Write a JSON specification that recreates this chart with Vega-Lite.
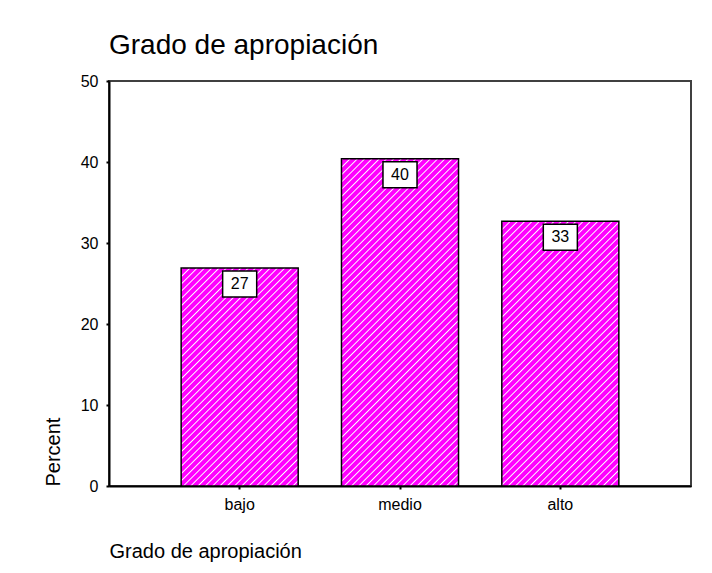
{
 "$schema": "https://vega.github.io/schema/vega-lite/v6.json",
 "width": 582,
 "height": 405,
 "autosize": "none",
 "padding": {"left": 109, "top": 81, "right": 21, "bottom": 87},
 "background": "white",
 "title": {"text": "Grado de apropiación", "anchor": "start", "frame": "group", "fontSize": 28, "font": "Liberation Sans", "fontWeight": "normal", "color": "black", "baseline": "alphabetic", "offset": 27, "dy": 36},
 "data": {"values": [
  {"cat": "bajo", "pct": 26.9},
  {"cat": "medio", "pct": 40.4},
  {"cat": "alto", "pct": 32.7}
 ]},
 "encoding": {
  "x": {"field": "cat", "type": "nominal", "sort": ["bajo", "medio", "alto"],
   "scale": {"paddingInner": 0.27, "paddingOuter": 0.45},
   "axis": {"title": "Grado de apropiación", "labelAngle": 0, "domainColor": "black", "domainWidth": 2, "tickColor": "black", "tickWidth": 2, "tickSize": 3, "labelPadding": 7, "labelFontSize": 16, "labelColor": "black", "titleFontSize": 20, "titleFontWeight": "normal", "titleColor": "black", "titleAnchor": "start", "titleAlign": "left", "titleX": 0, "titleY": 65, "titleBaseline": "middle", "grid": false}},
  "y": {"field": "pct", "type": "quantitative", "scale": {"domain": [0, 50], "nice": false},
   "axis": {"title": "Percent", "values": [0, 10, 20, 30, 40, 50], "domainColor": "black", "domainWidth": 2, "tickColor": "black", "tickWidth": 2, "tickSize": 3, "labelPadding": 8, "labelFontSize": 16, "labelColor": "black", "titleFontSize": 20, "titleFontWeight": "normal", "titleColor": "black", "titleAngle": 270, "titleAlign": "left", "titleBaseline": "middle", "titleX": -56, "titleY": 405, "grid": false}}
 },
 "layer": [
  {"mark": {"type": "bar", "stroke": "black", "strokeWidth": 1.5},
   "encoding": {"fill": {
    "condition": [
     {"test": "datum.cat === 'bajo'", "value": {"gradient": "linear", "x1": 0, "y1": 0, "x2": 0.8716, "y2": 1.624, "stops": [
{"offset":0,"color":"#f0f"},{"offset":0.003,"color":"#fff"},{"offset":0.006,"color":"#f0f"},
{"offset":0.016,"color":"#f0f"},{"offset":0.019,"color":"#fff"},{"offset":0.022,"color":"#f0f"},
{"offset":0.032,"color":"#f0f"},{"offset":0.035,"color":"#fff"},{"offset":0.038,"color":"#f0f"},
{"offset":0.048,"color":"#f0f"},{"offset":0.051,"color":"#fff"},{"offset":0.054,"color":"#f0f"},
{"offset":0.064,"color":"#f0f"},{"offset":0.067,"color":"#fff"},{"offset":0.07,"color":"#f0f"},
{"offset":0.08,"color":"#f0f"},{"offset":0.083,"color":"#fff"},{"offset":0.086,"color":"#f0f"},
{"offset":0.096,"color":"#f0f"},{"offset":0.099,"color":"#fff"},{"offset":0.102,"color":"#f0f"},
{"offset":0.112,"color":"#f0f"},{"offset":0.115,"color":"#fff"},{"offset":0.118,"color":"#f0f"},
{"offset":0.128,"color":"#f0f"},{"offset":0.131,"color":"#fff"},{"offset":0.134,"color":"#f0f"},
{"offset":0.144,"color":"#f0f"},{"offset":0.147,"color":"#fff"},{"offset":0.15,"color":"#f0f"},
{"offset":0.16,"color":"#f0f"},{"offset":0.163,"color":"#fff"},{"offset":0.166,"color":"#f0f"},
{"offset":0.176,"color":"#f0f"},{"offset":0.179,"color":"#fff"},{"offset":0.182,"color":"#f0f"},
{"offset":0.192,"color":"#f0f"},{"offset":0.195,"color":"#fff"},{"offset":0.198,"color":"#f0f"},
{"offset":0.208,"color":"#f0f"},{"offset":0.211,"color":"#fff"},{"offset":0.214,"color":"#f0f"},
{"offset":0.224,"color":"#f0f"},{"offset":0.227,"color":"#fff"},{"offset":0.23,"color":"#f0f"},
{"offset":0.24,"color":"#f0f"},{"offset":0.243,"color":"#fff"},{"offset":0.246,"color":"#f0f"},
{"offset":0.256,"color":"#f0f"},{"offset":0.259,"color":"#fff"},{"offset":0.262,"color":"#f0f"},
{"offset":0.272,"color":"#f0f"},{"offset":0.275,"color":"#fff"},{"offset":0.278,"color":"#f0f"},
{"offset":0.288,"color":"#f0f"},{"offset":0.291,"color":"#fff"},{"offset":0.294,"color":"#f0f"},
{"offset":0.304,"color":"#f0f"},{"offset":0.307,"color":"#fff"},{"offset":0.31,"color":"#f0f"},
{"offset":0.32,"color":"#f0f"},{"offset":0.323,"color":"#fff"},{"offset":0.326,"color":"#f0f"},
{"offset":0.336,"color":"#f0f"},{"offset":0.339,"color":"#fff"},{"offset":0.342,"color":"#f0f"},
{"offset":0.352,"color":"#f0f"},{"offset":0.355,"color":"#fff"},{"offset":0.358,"color":"#f0f"},
{"offset":0.368,"color":"#f0f"},{"offset":0.371,"color":"#fff"},{"offset":0.374,"color":"#f0f"},
{"offset":0.384,"color":"#f0f"},{"offset":0.387,"color":"#fff"},{"offset":0.39,"color":"#f0f"},
{"offset":0.4,"color":"#f0f"},{"offset":0.403,"color":"#fff"},{"offset":0.406,"color":"#f0f"},
{"offset":0.416,"color":"#f0f"},{"offset":0.419,"color":"#fff"},{"offset":0.422,"color":"#f0f"},
{"offset":0.432,"color":"#f0f"},{"offset":0.435,"color":"#fff"},{"offset":0.438,"color":"#f0f"},
{"offset":0.448,"color":"#f0f"},{"offset":0.451,"color":"#fff"},{"offset":0.454,"color":"#f0f"},
{"offset":0.464,"color":"#f0f"},{"offset":0.467,"color":"#fff"},{"offset":0.47,"color":"#f0f"},
{"offset":0.48,"color":"#f0f"},{"offset":0.483,"color":"#fff"},{"offset":0.486,"color":"#f0f"},
{"offset":0.496,"color":"#f0f"},{"offset":0.499,"color":"#fff"},{"offset":0.502,"color":"#f0f"},
{"offset":0.512,"color":"#f0f"},{"offset":0.515,"color":"#fff"},{"offset":0.518,"color":"#f0f"},
{"offset":0.528,"color":"#f0f"},{"offset":0.531,"color":"#fff"},{"offset":0.534,"color":"#f0f"},
{"offset":0.544,"color":"#f0f"},{"offset":0.547,"color":"#fff"},{"offset":0.55,"color":"#f0f"},
{"offset":0.56,"color":"#f0f"},{"offset":0.563,"color":"#fff"},{"offset":0.566,"color":"#f0f"},
{"offset":0.576,"color":"#f0f"},{"offset":0.579,"color":"#fff"},{"offset":0.582,"color":"#f0f"},
{"offset":0.592,"color":"#f0f"},{"offset":0.595,"color":"#fff"},{"offset":0.598,"color":"#f0f"},
{"offset":0.608,"color":"#f0f"},{"offset":0.611,"color":"#fff"},{"offset":0.614,"color":"#f0f"},
{"offset":0.624,"color":"#f0f"},{"offset":0.627,"color":"#fff"},{"offset":0.63,"color":"#f0f"},
{"offset":0.64,"color":"#f0f"},{"offset":0.643,"color":"#fff"},{"offset":0.646,"color":"#f0f"},
{"offset":0.656,"color":"#f0f"},{"offset":0.659,"color":"#fff"},{"offset":0.662,"color":"#f0f"},
{"offset":0.672,"color":"#f0f"},{"offset":0.675,"color":"#fff"},{"offset":0.678,"color":"#f0f"},
{"offset":0.688,"color":"#f0f"},{"offset":0.691,"color":"#fff"},{"offset":0.694,"color":"#f0f"},
{"offset":0.704,"color":"#f0f"},{"offset":0.707,"color":"#fff"},{"offset":0.71,"color":"#f0f"},
{"offset":0.72,"color":"#f0f"},{"offset":0.723,"color":"#fff"},{"offset":0.726,"color":"#f0f"},
{"offset":0.736,"color":"#f0f"},{"offset":0.739,"color":"#fff"},{"offset":0.742,"color":"#f0f"}
     ]}},
     {"test": "datum.cat === 'medio'", "value": {"gradient": "linear", "x1": 0, "y1": 0, "x2": 0.4423, "y2": 1.2362, "stops": [
{"offset":0,"color":"#f0f"},{"offset":0.003,"color":"#fff"},{"offset":0.006,"color":"#f0f"},
{"offset":0.016,"color":"#f0f"},{"offset":0.019,"color":"#fff"},{"offset":0.022,"color":"#f0f"},
{"offset":0.032,"color":"#f0f"},{"offset":0.035,"color":"#fff"},{"offset":0.038,"color":"#f0f"},
{"offset":0.048,"color":"#f0f"},{"offset":0.051,"color":"#fff"},{"offset":0.054,"color":"#f0f"},
{"offset":0.064,"color":"#f0f"},{"offset":0.067,"color":"#fff"},{"offset":0.07,"color":"#f0f"},
{"offset":0.08,"color":"#f0f"},{"offset":0.083,"color":"#fff"},{"offset":0.086,"color":"#f0f"},
{"offset":0.096,"color":"#f0f"},{"offset":0.099,"color":"#fff"},{"offset":0.102,"color":"#f0f"},
{"offset":0.112,"color":"#f0f"},{"offset":0.115,"color":"#fff"},{"offset":0.118,"color":"#f0f"},
{"offset":0.128,"color":"#f0f"},{"offset":0.131,"color":"#fff"},{"offset":0.134,"color":"#f0f"},
{"offset":0.144,"color":"#f0f"},{"offset":0.147,"color":"#fff"},{"offset":0.15,"color":"#f0f"},
{"offset":0.16,"color":"#f0f"},{"offset":0.163,"color":"#fff"},{"offset":0.166,"color":"#f0f"},
{"offset":0.176,"color":"#f0f"},{"offset":0.179,"color":"#fff"},{"offset":0.182,"color":"#f0f"},
{"offset":0.192,"color":"#f0f"},{"offset":0.195,"color":"#fff"},{"offset":0.198,"color":"#f0f"},
{"offset":0.208,"color":"#f0f"},{"offset":0.211,"color":"#fff"},{"offset":0.214,"color":"#f0f"},
{"offset":0.224,"color":"#f0f"},{"offset":0.227,"color":"#fff"},{"offset":0.23,"color":"#f0f"},
{"offset":0.24,"color":"#f0f"},{"offset":0.243,"color":"#fff"},{"offset":0.246,"color":"#f0f"},
{"offset":0.256,"color":"#f0f"},{"offset":0.259,"color":"#fff"},{"offset":0.262,"color":"#f0f"},
{"offset":0.272,"color":"#f0f"},{"offset":0.275,"color":"#fff"},{"offset":0.278,"color":"#f0f"},
{"offset":0.288,"color":"#f0f"},{"offset":0.291,"color":"#fff"},{"offset":0.294,"color":"#f0f"},
{"offset":0.304,"color":"#f0f"},{"offset":0.307,"color":"#fff"},{"offset":0.31,"color":"#f0f"},
{"offset":0.32,"color":"#f0f"},{"offset":0.323,"color":"#fff"},{"offset":0.326,"color":"#f0f"},
{"offset":0.336,"color":"#f0f"},{"offset":0.339,"color":"#fff"},{"offset":0.342,"color":"#f0f"},
{"offset":0.352,"color":"#f0f"},{"offset":0.355,"color":"#fff"},{"offset":0.358,"color":"#f0f"},
{"offset":0.368,"color":"#f0f"},{"offset":0.371,"color":"#fff"},{"offset":0.374,"color":"#f0f"},
{"offset":0.384,"color":"#f0f"},{"offset":0.387,"color":"#fff"},{"offset":0.39,"color":"#f0f"},
{"offset":0.4,"color":"#f0f"},{"offset":0.403,"color":"#fff"},{"offset":0.406,"color":"#f0f"},
{"offset":0.416,"color":"#f0f"},{"offset":0.419,"color":"#fff"},{"offset":0.422,"color":"#f0f"},
{"offset":0.432,"color":"#f0f"},{"offset":0.435,"color":"#fff"},{"offset":0.438,"color":"#f0f"},
{"offset":0.448,"color":"#f0f"},{"offset":0.451,"color":"#fff"},{"offset":0.454,"color":"#f0f"},
{"offset":0.464,"color":"#f0f"},{"offset":0.467,"color":"#fff"},{"offset":0.47,"color":"#f0f"},
{"offset":0.48,"color":"#f0f"},{"offset":0.483,"color":"#fff"},{"offset":0.486,"color":"#f0f"},
{"offset":0.496,"color":"#f0f"},{"offset":0.499,"color":"#fff"},{"offset":0.502,"color":"#f0f"},
{"offset":0.512,"color":"#f0f"},{"offset":0.515,"color":"#fff"},{"offset":0.518,"color":"#f0f"},
{"offset":0.528,"color":"#f0f"},{"offset":0.531,"color":"#fff"},{"offset":0.534,"color":"#f0f"},
{"offset":0.544,"color":"#f0f"},{"offset":0.547,"color":"#fff"},{"offset":0.55,"color":"#f0f"},
{"offset":0.56,"color":"#f0f"},{"offset":0.563,"color":"#fff"},{"offset":0.566,"color":"#f0f"},
{"offset":0.576,"color":"#f0f"},{"offset":0.579,"color":"#fff"},{"offset":0.582,"color":"#f0f"},
{"offset":0.592,"color":"#f0f"},{"offset":0.595,"color":"#fff"},{"offset":0.598,"color":"#f0f"},
{"offset":0.608,"color":"#f0f"},{"offset":0.611,"color":"#fff"},{"offset":0.614,"color":"#f0f"},
{"offset":0.624,"color":"#f0f"},{"offset":0.627,"color":"#fff"},{"offset":0.63,"color":"#f0f"},
{"offset":0.64,"color":"#f0f"},{"offset":0.643,"color":"#fff"},{"offset":0.646,"color":"#f0f"},
{"offset":0.656,"color":"#f0f"},{"offset":0.659,"color":"#fff"},{"offset":0.662,"color":"#f0f"},
{"offset":0.672,"color":"#f0f"},{"offset":0.675,"color":"#fff"},{"offset":0.678,"color":"#f0f"},
{"offset":0.688,"color":"#f0f"},{"offset":0.691,"color":"#fff"},{"offset":0.694,"color":"#f0f"},
{"offset":0.704,"color":"#f0f"},{"offset":0.707,"color":"#fff"},{"offset":0.71,"color":"#f0f"},
{"offset":0.72,"color":"#f0f"},{"offset":0.723,"color":"#fff"},{"offset":0.726,"color":"#f0f"},
{"offset":0.736,"color":"#f0f"},{"offset":0.739,"color":"#fff"},{"offset":0.742,"color":"#f0f"},
{"offset":0.752,"color":"#f0f"},{"offset":0.755,"color":"#fff"},{"offset":0.758,"color":"#f0f"},
{"offset":0.768,"color":"#f0f"},{"offset":0.771,"color":"#fff"},{"offset":0.774,"color":"#f0f"},
{"offset":0.784,"color":"#f0f"},{"offset":0.787,"color":"#fff"},{"offset":0.79,"color":"#f0f"},
{"offset":0.8,"color":"#f0f"},{"offset":0.803,"color":"#fff"},{"offset":0.806,"color":"#f0f"},
{"offset":0.816,"color":"#f0f"},{"offset":0.819,"color":"#fff"},{"offset":0.822,"color":"#f0f"},
{"offset":0.832,"color":"#f0f"},{"offset":0.835,"color":"#fff"},{"offset":0.838,"color":"#f0f"},
{"offset":0.848,"color":"#f0f"},{"offset":0.851,"color":"#fff"},{"offset":0.854,"color":"#f0f"},
{"offset":0.864,"color":"#f0f"},{"offset":0.867,"color":"#fff"},{"offset":0.87,"color":"#f0f"},
{"offset":0.88,"color":"#f0f"},{"offset":0.883,"color":"#fff"},{"offset":0.886,"color":"#f0f"},
{"offset":0.896,"color":"#f0f"},{"offset":0.899,"color":"#fff"},{"offset":0.902,"color":"#f0f"},
{"offset":0.912,"color":"#f0f"},{"offset":0.915,"color":"#fff"},{"offset":0.918,"color":"#f0f"},
{"offset":0.928,"color":"#f0f"},{"offset":0.931,"color":"#fff"},{"offset":0.934,"color":"#f0f"},
{"offset":0.944,"color":"#f0f"},{"offset":0.947,"color":"#fff"},{"offset":0.95,"color":"#f0f"},
{"offset":0.96,"color":"#f0f"},{"offset":0.963,"color":"#fff"},{"offset":0.966,"color":"#f0f"},
{"offset":0.976,"color":"#f0f"},{"offset":0.979,"color":"#fff"},{"offset":0.982,"color":"#f0f"},
{"offset":0.992,"color":"#f0f"},{"offset":0.995,"color":"#fff"},{"offset":0.998,"color":"#f0f"}
     ]}}
    ],
    "value": {"gradient": "linear", "x1": 0, "y1": 0, "x2": 0.6358, "y2": 1.44, "stops": [
{"offset":0,"color":"#f0f"},{"offset":0.003,"color":"#fff"},{"offset":0.006,"color":"#f0f"},
{"offset":0.016,"color":"#f0f"},{"offset":0.019,"color":"#fff"},{"offset":0.022,"color":"#f0f"},
{"offset":0.032,"color":"#f0f"},{"offset":0.035,"color":"#fff"},{"offset":0.038,"color":"#f0f"},
{"offset":0.048,"color":"#f0f"},{"offset":0.051,"color":"#fff"},{"offset":0.054,"color":"#f0f"},
{"offset":0.064,"color":"#f0f"},{"offset":0.067,"color":"#fff"},{"offset":0.07,"color":"#f0f"},
{"offset":0.08,"color":"#f0f"},{"offset":0.083,"color":"#fff"},{"offset":0.086,"color":"#f0f"},
{"offset":0.096,"color":"#f0f"},{"offset":0.099,"color":"#fff"},{"offset":0.102,"color":"#f0f"},
{"offset":0.112,"color":"#f0f"},{"offset":0.115,"color":"#fff"},{"offset":0.118,"color":"#f0f"},
{"offset":0.128,"color":"#f0f"},{"offset":0.131,"color":"#fff"},{"offset":0.134,"color":"#f0f"},
{"offset":0.144,"color":"#f0f"},{"offset":0.147,"color":"#fff"},{"offset":0.15,"color":"#f0f"},
{"offset":0.16,"color":"#f0f"},{"offset":0.163,"color":"#fff"},{"offset":0.166,"color":"#f0f"},
{"offset":0.176,"color":"#f0f"},{"offset":0.179,"color":"#fff"},{"offset":0.182,"color":"#f0f"},
{"offset":0.192,"color":"#f0f"},{"offset":0.195,"color":"#fff"},{"offset":0.198,"color":"#f0f"},
{"offset":0.208,"color":"#f0f"},{"offset":0.211,"color":"#fff"},{"offset":0.214,"color":"#f0f"},
{"offset":0.224,"color":"#f0f"},{"offset":0.227,"color":"#fff"},{"offset":0.23,"color":"#f0f"},
{"offset":0.24,"color":"#f0f"},{"offset":0.243,"color":"#fff"},{"offset":0.246,"color":"#f0f"},
{"offset":0.256,"color":"#f0f"},{"offset":0.259,"color":"#fff"},{"offset":0.262,"color":"#f0f"},
{"offset":0.272,"color":"#f0f"},{"offset":0.275,"color":"#fff"},{"offset":0.278,"color":"#f0f"},
{"offset":0.288,"color":"#f0f"},{"offset":0.291,"color":"#fff"},{"offset":0.294,"color":"#f0f"},
{"offset":0.304,"color":"#f0f"},{"offset":0.307,"color":"#fff"},{"offset":0.31,"color":"#f0f"},
{"offset":0.32,"color":"#f0f"},{"offset":0.323,"color":"#fff"},{"offset":0.326,"color":"#f0f"},
{"offset":0.336,"color":"#f0f"},{"offset":0.339,"color":"#fff"},{"offset":0.342,"color":"#f0f"},
{"offset":0.352,"color":"#f0f"},{"offset":0.355,"color":"#fff"},{"offset":0.358,"color":"#f0f"},
{"offset":0.368,"color":"#f0f"},{"offset":0.371,"color":"#fff"},{"offset":0.374,"color":"#f0f"},
{"offset":0.384,"color":"#f0f"},{"offset":0.387,"color":"#fff"},{"offset":0.39,"color":"#f0f"},
{"offset":0.4,"color":"#f0f"},{"offset":0.403,"color":"#fff"},{"offset":0.406,"color":"#f0f"},
{"offset":0.416,"color":"#f0f"},{"offset":0.419,"color":"#fff"},{"offset":0.422,"color":"#f0f"},
{"offset":0.432,"color":"#f0f"},{"offset":0.435,"color":"#fff"},{"offset":0.438,"color":"#f0f"},
{"offset":0.448,"color":"#f0f"},{"offset":0.451,"color":"#fff"},{"offset":0.454,"color":"#f0f"},
{"offset":0.464,"color":"#f0f"},{"offset":0.467,"color":"#fff"},{"offset":0.47,"color":"#f0f"},
{"offset":0.48,"color":"#f0f"},{"offset":0.483,"color":"#fff"},{"offset":0.486,"color":"#f0f"},
{"offset":0.496,"color":"#f0f"},{"offset":0.499,"color":"#fff"},{"offset":0.502,"color":"#f0f"},
{"offset":0.512,"color":"#f0f"},{"offset":0.515,"color":"#fff"},{"offset":0.518,"color":"#f0f"},
{"offset":0.528,"color":"#f0f"},{"offset":0.531,"color":"#fff"},{"offset":0.534,"color":"#f0f"},
{"offset":0.544,"color":"#f0f"},{"offset":0.547,"color":"#fff"},{"offset":0.55,"color":"#f0f"},
{"offset":0.56,"color":"#f0f"},{"offset":0.563,"color":"#fff"},{"offset":0.566,"color":"#f0f"},
{"offset":0.576,"color":"#f0f"},{"offset":0.579,"color":"#fff"},{"offset":0.582,"color":"#f0f"},
{"offset":0.592,"color":"#f0f"},{"offset":0.595,"color":"#fff"},{"offset":0.598,"color":"#f0f"},
{"offset":0.608,"color":"#f0f"},{"offset":0.611,"color":"#fff"},{"offset":0.614,"color":"#f0f"},
{"offset":0.624,"color":"#f0f"},{"offset":0.627,"color":"#fff"},{"offset":0.63,"color":"#f0f"},
{"offset":0.64,"color":"#f0f"},{"offset":0.643,"color":"#fff"},{"offset":0.646,"color":"#f0f"},
{"offset":0.656,"color":"#f0f"},{"offset":0.659,"color":"#fff"},{"offset":0.662,"color":"#f0f"},
{"offset":0.672,"color":"#f0f"},{"offset":0.675,"color":"#fff"},{"offset":0.678,"color":"#f0f"},
{"offset":0.688,"color":"#f0f"},{"offset":0.691,"color":"#fff"},{"offset":0.694,"color":"#f0f"},
{"offset":0.704,"color":"#f0f"},{"offset":0.707,"color":"#fff"},{"offset":0.71,"color":"#f0f"},
{"offset":0.72,"color":"#f0f"},{"offset":0.723,"color":"#fff"},{"offset":0.726,"color":"#f0f"},
{"offset":0.736,"color":"#f0f"},{"offset":0.739,"color":"#fff"},{"offset":0.742,"color":"#f0f"},
{"offset":0.752,"color":"#f0f"},{"offset":0.755,"color":"#fff"},{"offset":0.758,"color":"#f0f"},
{"offset":0.768,"color":"#f0f"},{"offset":0.771,"color":"#fff"},{"offset":0.774,"color":"#f0f"},
{"offset":0.784,"color":"#f0f"},{"offset":0.787,"color":"#fff"},{"offset":0.79,"color":"#f0f"},
{"offset":0.8,"color":"#f0f"},{"offset":0.803,"color":"#fff"},{"offset":0.806,"color":"#f0f"},
{"offset":0.816,"color":"#f0f"},{"offset":0.819,"color":"#fff"},{"offset":0.822,"color":"#f0f"},
{"offset":0.832,"color":"#f0f"},{"offset":0.835,"color":"#fff"},{"offset":0.838,"color":"#f0f"},
{"offset":0.848,"color":"#f0f"},{"offset":0.851,"color":"#fff"},{"offset":0.854,"color":"#f0f"}
    ]}
   }}},
  {"mark": {"type": "point", "shape": "M-1.31,-1H1.31V1H-1.31Z", "size": 676, "filled": true, "fill": "white", "stroke": "black", "strokeWidth": 1.5, "opacity": 1, "yOffset": 16}},
  {"mark": {"type": "text", "fontSize": 16, "font": "Liberation Sans", "color": "black", "baseline": "middle", "align": "center", "yOffset": 16},
   "encoding": {"text": {"field": "pct", "type": "quantitative", "format": ".0f"}}}
 ],
 "config": {
  "font": "Liberation Sans",
  "view": {"stroke": "#404040", "strokeWidth": 2},
  "axis": {"labelFont": "Liberation Sans", "titleFont": "Liberation Sans"}
 }
}
